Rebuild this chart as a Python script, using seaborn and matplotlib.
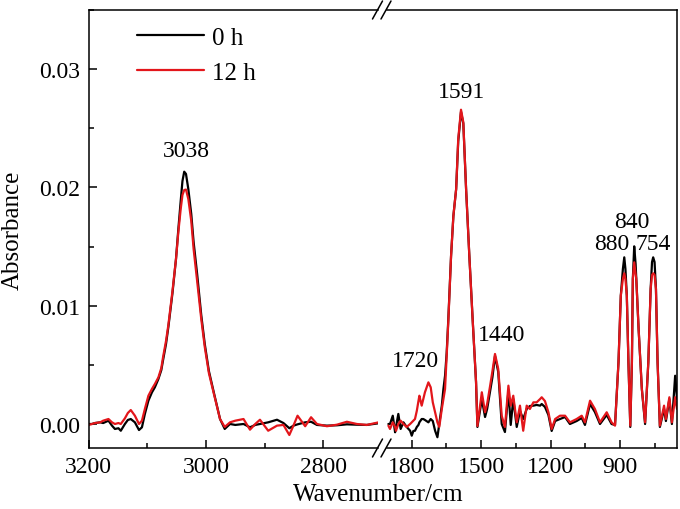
import pandas as pd
import matplotlib.pyplot as plt
import seaborn as sns
from matplotlib.lines import Line2D
from matplotlib.ticker import MultipleLocator, FormatStrFormatter

sns.set_theme(style='ticks')
plt.rcParams['font.family'] = ['Liberation Serif', 'DejaVu Serif']
plt.rcParams.update({'axes.edgecolor': 'black', 'xtick.color': 'black',
                     'ytick.color': 'black', 'text.color': 'black',
                     'axes.labelcolor': 'black'})

# ---- high wavenumber window (3200 - 2700 cm-1)
left_wn = [3200, 3194, 3189, 3180, 3175, 3166, 3160, 3155, 3149, 3145,
           3138, 3133, 3128, 3121, 3114, 3109, 3104, 3098, 3092, 3087,
           3081, 3076, 3073, 3068, 3064, 3057, 3051, 3047, 3043, 3040,
           3037, 3034, 3030, 3025, 3021, 3015, 3008, 3002, 2995, 2986,
           2976, 2968, 2959, 2950, 2936, 2925, 2916, 2908, 2894, 2879,
           2868, 2858, 2851, 2844, 2831, 2821, 2811, 2794, 2777, 2760,
           2743, 2726, 2706]
left_0h = [0, 0, 0.00008, 0.00014, 0.00008, 0.00028, -0.00014, -0.00042, -0.00036, -0.00057,
           0, 0.00034, 0.00042, 0.00014, -0.00051, -0.00028, 0.00085, 0.00197, 0.00267, 0.00310,
           0.00380, 0.00456, 0.00541, 0.00676, 0.00820, 0.01107, 0.01395, 0.01648, 0.01885, 0.02054,
           0.02133, 0.02114, 0.01986, 0.01775, 0.01538, 0.01268, 0.00921, 0.00676, 0.00448, 0.00254,
           0.00042, -0.00042, 0, -0.00008, 0, -0.00028, -0.00008, 0, 0.00014, 0.00036,
           0.00008, -0.00036, -0.00014, -0.00003, 0.00014, 0.00019, -0.00008, -0.00014, -0.00011, -0.00003,
           -0.00006, -0.00008, 0.00006]
left_12h = [-0.00008, 0, 0.00008, 0.00014, 0.00028, 0.00042, 0.00014, 0, 0.00008, 0,
            0.00048, 0.00093, 0.00118, 0.00070, 0, 0.00028, 0.00127, 0.00239, 0.00296, 0.00338,
            0.00394, 0.00473, 0.00566, 0.00702, 0.00837, 0.01124, 0.01395, 0.01623, 0.01817, 0.01936,
            0.01978, 0.01982, 0.01902, 0.01716, 0.01479, 0.01209, 0.00888, 0.00651, 0.00431, 0.00245,
            0.00042, -0.00025, 0.00014, 0.00028, 0.00042, -0.00048, 0, 0.00036, -0.00057, -0.00014,
            -0.00008, -0.00093, -0.00014, 0.0007, -0.00019, 0.00057, 0, -0.00019, -0.00006, 0.00019,
            0, -0.00008, 0.00014]

# ---- fingerprint window (1900 - 650 cm-1)
right_wn = [1901, 1894, 1882, 1872, 1868, 1858, 1848, 1836, 1822, 1807,
            1800, 1793, 1786, 1778, 1771, 1767, 1757, 1750, 1743, 1728,
            1718, 1709, 1699, 1689, 1681, 1670, 1663, 1656, 1649, 1642,
            1630, 1620, 1608, 1599, 1587, 1577, 1565, 1551, 1536, 1522,
            1516, 1497, 1483, 1474, 1461, 1451, 1440, 1426, 1411, 1397,
            1382, 1372, 1361, 1346, 1332, 1318, 1303, 1289, 1274, 1260,
            1245, 1238, 1224, 1209, 1195, 1180, 1159, 1137, 1116, 1087,
            1065, 1051, 1029, 1008, 986, 957, 936, 921, 906, 896,
            887, 881, 876, 870, 863, 855, 848, 844, 838, 832,
            829, 819, 805, 791, 777, 767, 761, 756, 750, 744,
            737, 727, 709, 701, 686, 675, 661, 653]
right_0h = [0, 0, 0.00070, -0.00070, -0.00025, 0.00085, -0.00042, 0.00014, -0.00025, -0.00057,
            -0.00099, -0.00059, -0.00057, -0.00025, -0.00008, 0.00014, 0.00042, 0.00042, 0.00034, 0.00014,
            0.00042, 0.00025, -0.00057, -0.00112, 0, 0.00155, 0.00296, 0.00408, 0.00600, 0.00880,
            0.01420, 0.01758, 0.01986, 0.02390, 0.02640, 0.02540, 0.01986, 0.01423, 0.00860, 0.00355,
            -0.00025, 0.00211, 0.00059, 0.00127, 0.00279, 0.00397, 0.00575, 0.00440, 0, -0.00068,
            0.00279, -0.00008, 0.00211, -0.00025, 0.00110, 0.00042, 0.00127, 0.00152, 0.00155, 0.00161,
            0.00155, 0.00169, 0.00144, 0.00076, -0.00059, 0.00025, 0.00042, 0.00059, 0, 0.00025,
            0.00051, -0.00008, 0.00169, 0.00101, 0, 0.00076, 0, -0.00008, 0.00522, 0.01085,
            0.01310, 0.01409, 0.01310, 0.01085, 0.00522, -0.00025, 0.00522, 0.01226, 0.01502, 0.01352,
            0.01226, 0.00803, 0.00296, 0, 0.00522, 0.01141, 0.01369, 0.01409, 0.01369, 0.01141,
            0.00522, -0.00025, 0.00127, 0.00025, 0.00211, 0, 0.00408, 0.00211]
right_12h = [-0.00014, -0.00042, 0.00014, -0.00025, -0.00057, 0, 0.00028, 0, -0.00025, 0,
             0.00014, 0.00028, 0.00042, 0.00112, 0.00194, 0.00239, 0.00155, 0.00211, 0.00268, 0.00352,
             0.00310, 0.00183, 0.00099, 0.00014, -0.00025, 0.00127, 0.00211, 0.00296, 0.00575, 0.00862,
             0.01420, 0.01758, 0.01986, 0.02409, 0.02657, 0.02550, 0.01986, 0.01423, 0.00860, 0.00355,
             -0.00017, 0.00268, 0.00099, 0.00169, 0.00324, 0.00448, 0.00592, 0.00465, 0.00070, -0.00025,
             0.00324, 0.00155, 0.00239, 0.00014, 0.00155, -0.00057, 0.00155, 0.00127, 0.00183, 0.00183,
             0.00211, 0.00226, 0.00194, 0.00099, -0.00042, 0.00042, 0.00070, 0.00070, 0.00014, 0.00042,
             0.00070, 0.00014, 0.00197, 0.00127, 0.00014, 0.00099, 0.00014, -0.00014, 0.00522, 0.01085,
             0.01226, 0.01274, 0.01226, 0.01085, 0.00522, -0.00014, 0.00522, 0.01226, 0.01367, 0.01268,
             0.01226, 0.00803, 0.00296, 0.00014, 0.00522, 0.01141, 0.01260, 0.01274, 0.01260, 0.01141,
             0.00522, -0.00014, 0.00155, 0.00042, 0.00226, 0.00014, 0.00226, 0.00127]

series = ['0 h', '12 h']
colors = {'0 h': 'black', '12 h': '#e3161b'}

# peak labels: (text, wavenumber position, absorbance position)
left_labels = [('3038', 3033, 0.0231)]
right_labels = [('1591', 1584, 0.02815), ('1440', 1410, 0.0076), ('1720', 1784, 0.0054),
                ('840', 848, 0.01716), ('880', 934, 0.01522), ('754', 757, 0.01522)]


def to_long(wn, a, b):
    return pd.DataFrame({'wn': wn + wn,
                         'absorbance': a + b,
                         'time': [series[0]] * len(wn) + [series[1]] * len(wn)})


W, H = 680, 510
fig = plt.figure(figsize=(W / 100, H / 100), dpi=100)
axL = fig.add_axes([88.5 / W, 61 / H, 289.5 / W, 438 / H])
axR = fig.add_axes([387 / W, 61 / H, 290 / W, 438 / H])

for ax, df in [(axL, to_long(left_wn, left_0h, left_12h)),
               (axR, to_long(right_wn, right_0h, right_12h))]:
    sns.lineplot(data=df, x='wn', y='absorbance', hue='time', hue_order=series,
                 palette=colors, estimator=None, lw=1.6, legend=False, ax=ax)
    ax.set_ylim(-0.00203, 0.0350)
    ax.set_xlabel('')
    ax.set_ylabel('')
    ax.tick_params(which='both', direction='in', top=False, right=False,
                   labelsize=17, width=1.1, pad=6)
    ax.tick_params(which='major', length=6)
    ax.tick_params(which='minor', length=3.5)
    for s in ax.spines.values():
        s.set_linewidth(1.1)

axL.set_xlim(3200, 2707)
axL.xaxis.set_major_locator(MultipleLocator(200))
axL.xaxis.set_minor_locator(MultipleLocator(100))
axL.yaxis.set_major_locator(MultipleLocator(0.01))
axL.yaxis.set_minor_locator(MultipleLocator(0.005))
axL.yaxis.set_major_formatter(FormatStrFormatter('%.2f'))
axL.spines['right'].set_visible(False)

axR.set_xlim(1907, 653)
axR.xaxis.set_major_locator(MultipleLocator(300))
axR.xaxis.set_minor_locator(MultipleLocator(150))
axR.tick_params(which='both', left=False, labelleft=False)
axR.spines['left'].set_visible(False)

for ax, labels in [(axL, left_labels), (axR, right_labels)]:
    for txt, x, y in labels:
        ax.text(x, y, txt, ha='center', va='center', fontsize=17)

handles = [Line2D([], [], color=colors[s], lw=1.6, label=s) for s in series]
axL.legend(handles=handles, loc='upper left', bbox_to_anchor=(0.1675, 0.963),
           frameon=False, borderpad=0, borderaxespad=0, handlelength=2.7,
           handletextpad=0.3, labelspacing=0.5, fontsize=18)

# axis break marks
for yc in (11, 449):
    for xc in (377.5, 386):
        fig.add_artist(Line2D([(xc - 5) / W, (xc + 5) / W],
                              [1 - (yc + 9) / H, 1 - (yc - 9) / H],
                              transform=fig.transFigure, color='black', lw=1.1))

fig.text(13 / W, 1 - 230 / H, 'Absorbance', rotation=90, ha='center', va='center', fontsize=18)
fig.text(378 / W, 1 - 495 / H, 'Wavenumber/cm', ha='center', va='center', fontsize=18)

fig.savefig('out.png', dpi=100)
